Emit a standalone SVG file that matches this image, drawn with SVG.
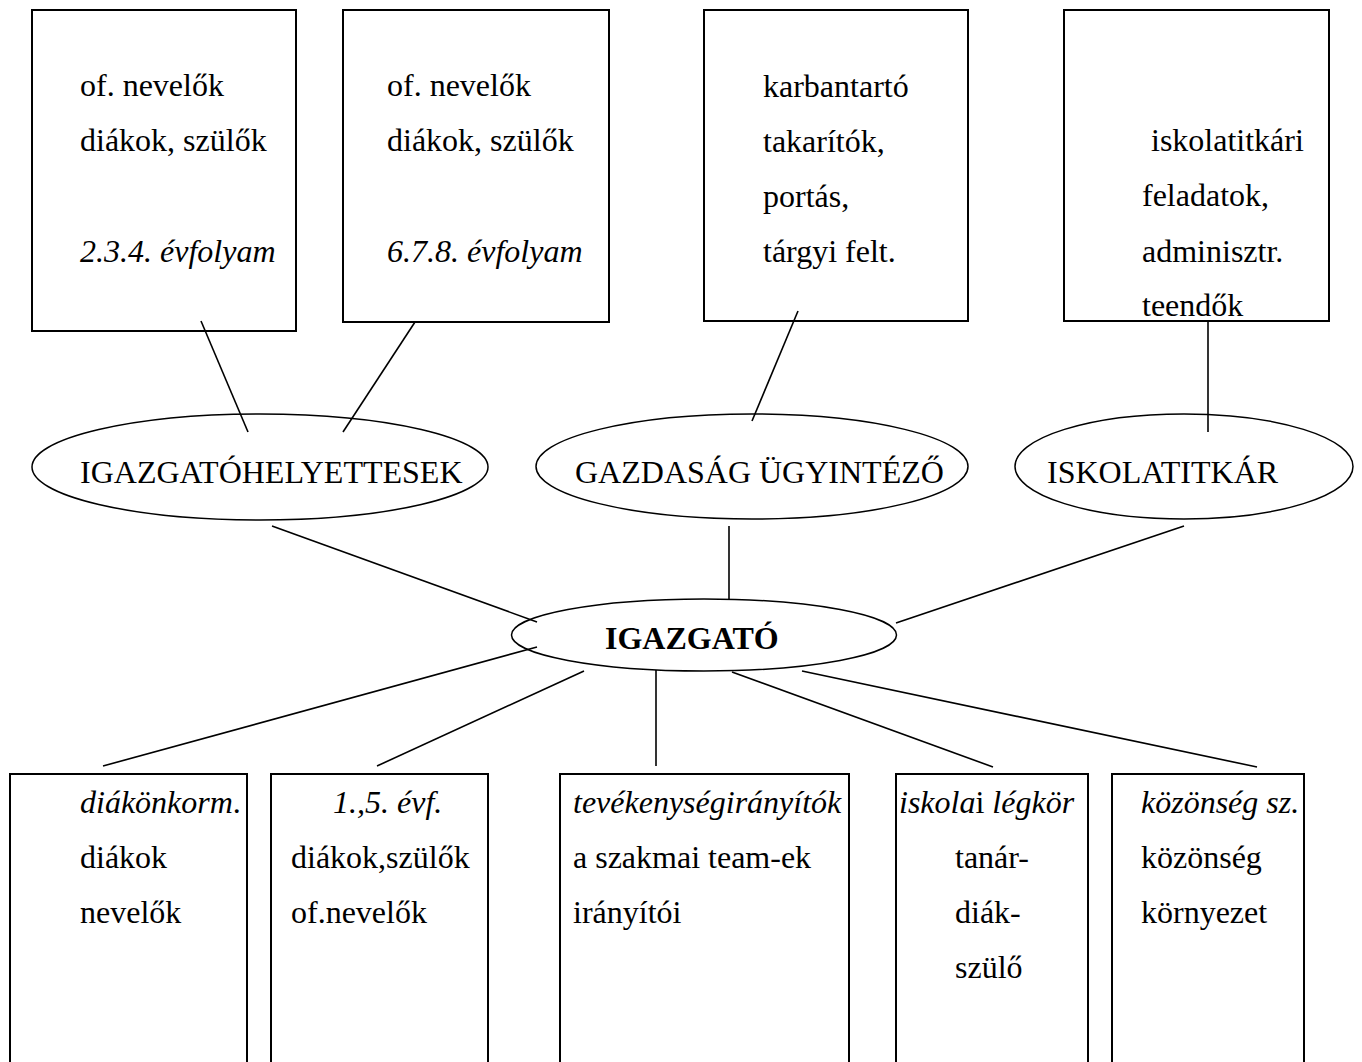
<svg xmlns="http://www.w3.org/2000/svg" width="1362" height="1062" viewBox="0 0 1362 1062">
<style>
rect{fill:#fff;stroke:#000;stroke-width:2}
ellipse{fill:#fff;stroke:#000;stroke-width:1.5}
text{font-family:"Liberation Serif","Times New Roman",serif;font-size:32px;fill:#000}
.i{font-style:italic}
.b{font-weight:bold}
#connectors line{stroke:#000;stroke-width:1.6}
</style>
<rect x="0" y="0" width="1362" height="1062" style="stroke:none"/>
<g id="box-234">
<rect x="32" y="10" width="264" height="321"/>
<text x="80" y="96">of. nevelők</text>
<text x="80" y="151">diákok, szülők</text>
<text x="80" y="262" class="i">2.3.4. évfolyam</text>
</g>
<g id="box-678">
<rect x="343" y="10" width="266" height="312"/>
<text x="387" y="96">of. nevelők</text>
<text x="387" y="151">diákok, szülők</text>
<text x="387" y="262" class="i">6.7.8. évfolyam</text>
</g>
<g id="box-gazd">
<rect x="704" y="10" width="264" height="311"/>
<text x="763" y="97">karbantartó</text>
<text x="763" y="152">takarítók,</text>
<text x="763" y="207">portás,</text>
<text x="763" y="262">tárgyi felt.</text>
</g>
<g id="box-titk">
<rect x="1064" y="10" width="265" height="311"/>
<text x="1151" y="151">iskolatitkári</text>
<text x="1142" y="206">feladatok,</text>
<text x="1142" y="262">adminisztr.</text>
<text x="1142" y="316">teendők</text>
</g>
<g id="ell-helyettesek">
<ellipse cx="260" cy="467" rx="228" ry="53"/>
<text x="80" y="483">IGAZGATÓHELYETTESEK</text>
</g>
<g id="ell-gazdasag">
<ellipse cx="752" cy="466.5" rx="216" ry="52.5"/>
<text x="575" y="483">GAZDASÁG ÜGYINTÉZŐ</text>
</g>
<g id="ell-iskolatitkar">
<ellipse cx="1184" cy="466.5" rx="169" ry="52.5"/>
<text x="1047" y="483">ISKOLATITKÁR</text>
</g>
<g id="ell-igazgato">
<ellipse cx="704" cy="635" rx="192.5" ry="36"/>
<text x="605" y="649" class="b">IGAZGATÓ</text>
</g>
<g id="box-diakonkorm">
<rect x="10" y="774" width="237" height="300"/>
<text x="80" y="813"><tspan class="i">diákönkorm</tspan>.</text>
<text x="80" y="868">diákok</text>
<text x="80" y="923">nevelők</text>
</g>
<g id="box-15">
<rect x="271" y="774" width="217" height="300"/>
<text x="333" y="813" class="i">1.,5. évf.</text>
<text x="291" y="868">diákok,szülők</text>
<text x="291" y="923">of.nevelők</text>
</g>
<g id="box-tev">
<rect x="560" y="774" width="289" height="300"/>
<text x="573" y="813" class="i">tevékenységirányítók</text>
<text x="573" y="868">a szakmai team-ek</text>
<text x="573" y="923">irányítói</text>
</g>
<g id="box-legkor">
<rect x="896" y="774" width="192" height="300"/>
<text x="899" y="813"><tspan class="i">iskola</tspan>i <tspan class="i">légkör</tspan></text>
<text x="955" y="868">tanár-</text>
<text x="955" y="923">diák-</text>
<text x="955" y="978">szülő</text>
</g>
<g id="box-kozonseg">
<rect x="1112" y="774" width="192" height="300"/>
<text x="1141" y="813" class="i">közönség sz.</text>
<text x="1141" y="868">közönség</text>
<text x="1141" y="923">környezet</text>
</g>
<g id="connectors">
<line x1="201" y1="321" x2="248" y2="432"/>
<line x1="415" y1="322" x2="343" y2="432"/>
<line x1="798" y1="311" x2="752" y2="421"/>
<line x1="1208" y1="321" x2="1208" y2="432"/>
<line x1="272" y1="526" x2="537" y2="622"/>
<line x1="729" y1="526" x2="729" y2="599"/>
<line x1="1184" y1="526" x2="896" y2="623"/>
<line x1="537" y1="647" x2="103" y2="766"/>
<line x1="584" y1="671" x2="377" y2="766"/>
<line x1="656" y1="670" x2="656" y2="766"/>
<line x1="732" y1="672" x2="993" y2="767"/>
<line x1="802" y1="671" x2="1257" y2="767"/>
</g>
</svg>
